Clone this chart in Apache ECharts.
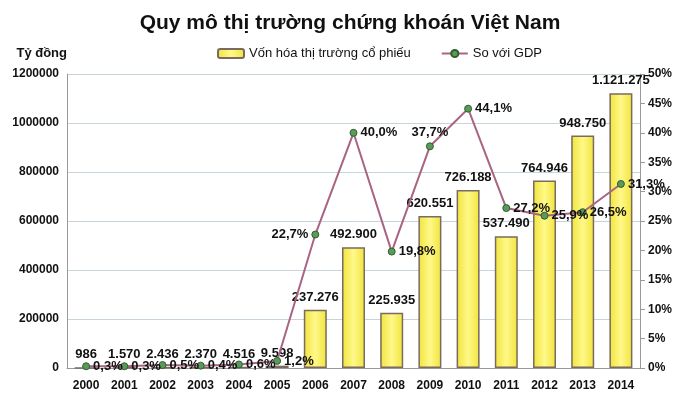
<!DOCTYPE html>
<html>
<head>
<meta charset="utf-8">
<script src="https://cdn.jsdelivr.net/npm/echarts@6/dist/echarts.min.js"></script>
<style>html,body{margin:0;padding:0;background:#fff}#main{width:700px;height:404px}</style>
</head>
<body>
<div id="main"></div>
<script>
var years = ['2000','2001','2002','2003','2004','2005','2006','2007','2008','2009','2010','2011','2012','2013','2014'];
var capValues = [986, 1570, 2436, 2370, 4516, 9598, 237276, 492900, 225935, 620551, 726188, 537490, 764946, 948750, 1121275];
var capLabels = ['986','1.570','2.436','2.370','4.516','9.598','237.276','492.900','225.935','620.551','726.188','537.490','764.946','948.750','1.121.275'];
var gdpValues = [0.3, 0.3, 0.5, 0.4, 0.6, 1.2, 22.7, 40.0, 19.8, 37.7, 44.1, 27.2, 25.9, 26.5, 31.3];
var gdpPos = ['right','right','right','right','right','right','left','right','right','top','right','right','right','right','right'];

var chart = echarts.init(document.getElementById('main'));
var font = 'Liberation Sans, Arial, sans-serif';
chart.setOption({
    textStyle: { fontFamily: font },
    title: {
        text: 'Quy mô thị trường chứng khoán Việt Nam',
        left: 'center', top: 8,
        textStyle: { fontSize: 21, fontWeight: 'bold', color: '#111', fontFamily: font }
    },
    legend: {
        top: 42, left: 212, itemGap: 30, itemWidth: 26, itemHeight: 9,
        textStyle: { fontSize: 13, color: '#111', fontFamily: font },
        data: ['Vốn hóa thị trường cổ phiếu', 'So với GDP']
    },
    grid: { left: 67, right: 60, top: 74, bottom: 36 },
    xAxis: {
        type: 'category', data: years,
        axisLine: { lineStyle: { color: '#999' } },
        axisTick: { show: false },
        axisLabel: { color: '#111', fontWeight: 'bold', fontSize: 12, margin: 12 }
    },
    yAxis: [{
        type: 'value', min: 0, max: 1200000, interval: 200000,
        name: 'Tỷ đồng', nameGap: 14,
        nameTextStyle: { color: '#111', fontWeight: 'bold', fontSize: 13, align: 'right' },
        axisLine: { show: true, lineStyle: { color: '#999' } },
        axisLabel: { color: '#111', fontWeight: 'bold', fontSize: 12, formatter: function (v) { return String(v); } },
        splitLine: { lineStyle: { color: '#c8d4dc' } }
    }, {
        type: 'value', min: 0, max: 50, interval: 5,
        axisLine: { show: true, lineStyle: { color: '#999' } },
        axisTick: { show: true },
        axisLabel: { color: '#111', fontWeight: 'bold', fontSize: 12, formatter: '{value}%' },
        splitLine: { show: false }
    }],
    series: [{
        name: 'Vốn hóa thị trường cổ phiếu', type: 'bar', barWidth: 23,
        data: capValues,
        itemStyle: {
            color: new echarts.graphic.LinearGradient(0, 0, 1, 0, [
                { offset: 0, color: '#f0e43a' }, { offset: 0.5, color: '#fff88a' }, { offset: 1, color: '#f0e43a' }
            ]),
            borderColor: '#7a6a60', borderWidth: 1.5
        },
        label: {
            show: true, position: 'top', distance: 6, color: '#111', fontWeight: 'bold', fontSize: 13,
            formatter: function (p) { return capLabels[p.dataIndex]; }
        }
    }, {
        name: 'So với GDP', type: 'line', yAxisIndex: 1,
        data: gdpValues.map(function (v, i) {
            return { value: v, label: { position: gdpPos[i] } };
        }),
        symbol: 'circle', symbolSize: 7,
        lineStyle: { color: '#a86482', width: 2 },
        itemStyle: { color: '#5a9a5a', borderColor: '#2f5f2f', borderWidth: 1 },
        label: {
            show: true, distance: 3, color: '#111', fontWeight: 'bold', fontSize: 13,
            formatter: function (p) { return p.value.toFixed(1).replace('.', ',') + '%'; }
        },
        z: 3
    }]
});
</script>
</body>
</html>
